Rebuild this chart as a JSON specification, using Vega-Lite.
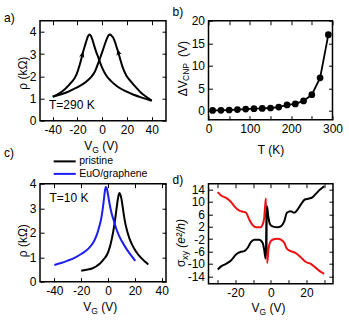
{
  "$schema": "https://vega.github.io/schema/vega-lite/v6.json",
  "background": "white",
  "padding": {"left": 3, "top": 4.7, "right": 2, "bottom": 2},
  "columns": 2,
  "spacing": {"row": 63, "column": 42.5},
  "bounds": "flush",
  "resolve": {"scale": {"color": "independent"}, "legend": {"color": "independent"}},
  "config": {
    "font": "Liberation Sans",
    "view": {"stroke": "black", "strokeWidth": 1.5},
    "axis": {
      "grid": false, "domain": false, "ticks": true, "tickSize": -4, "tickColor": "black", "tickWidth": 1,
      "labelPadding": 8, "labelFont": "Liberation Sans", "labelFontSize": 12, "labelColor": "black",
      "labelFlush": false, "labelOverlap": false, "labelBound": false,
      "titleFont": "Liberation Sans", "titleFontSize": 12, "titleFontWeight": "normal", "titleColor": "black"
    },
    "title": {"font": "Liberation Sans", "fontSize": 12, "fontWeight": "normal", "color": "black", "anchor": "start", "frame": "group", "baseline": "alphabetic"}
  },
  "concat": [
    {
      "width": 126, "height": 100,
      "title": {"text": "a)", "dx": -36, "offset": -4.5},
      "data": {"values": [
        {"VG": -40, "rho": 1.08, "sweep": "L"}, {"VG": -35, "rho": 1.22, "sweep": "L"}, {"VG": -30, "rho": 1.43, "sweep": "L"},
        {"VG": -25, "rho": 1.72, "sweep": "L"}, {"VG": -21, "rho": 2.05, "sweep": "L"}, {"VG": -18, "rho": 2.55, "sweep": "L"},
        {"VG": -16, "rho": 2.98, "sweep": "L"}, {"VG": -14.5, "rho": 3.28, "sweep": "L"}, {"VG": -13, "rho": 3.55, "sweep": "L"},
        {"VG": -11.6, "rho": 3.79, "sweep": "L"}, {"VG": -10.4, "rho": 3.88, "sweep": "L"}, {"VG": -9.2, "rho": 3.82, "sweep": "L"},
        {"VG": -8, "rho": 3.66, "sweep": "L"}, {"VG": -6.5, "rho": 3.38, "sweep": "L"}, {"VG": -5, "rho": 3.12, "sweep": "L"},
        {"VG": -3.5, "rho": 2.9, "sweep": "L"}, {"VG": -2, "rho": 2.66, "sweep": "L"}, {"VG": 0, "rho": 2.38, "sweep": "L"},
        {"VG": 3, "rho": 2.06, "sweep": "L"}, {"VG": 7, "rho": 1.79, "sweep": "L"}, {"VG": 12, "rho": 1.55, "sweep": "L"},
        {"VG": 18, "rho": 1.35, "sweep": "L"}, {"VG": 25, "rho": 1.18, "sweep": "L"}, {"VG": 32, "rho": 1.04, "sweep": "L"},
        {"VG": 40, "rho": 0.9, "sweep": "L"},
        {"VG": -40, "rho": 1.08, "sweep": "R"}, {"VG": -33, "rho": 1.19, "sweep": "R"}, {"VG": -28, "rho": 1.29, "sweep": "R"},
        {"VG": -22, "rho": 1.45, "sweep": "R"}, {"VG": -17, "rho": 1.6, "sweep": "R"}, {"VG": -12, "rho": 1.8, "sweep": "R"},
        {"VG": -9, "rho": 1.96, "sweep": "R"}, {"VG": -6, "rho": 2.2, "sweep": "R"}, {"VG": -3.5, "rho": 2.55, "sweep": "R"},
        {"VG": -1.5, "rho": 2.85, "sweep": "R"}, {"VG": 0.4, "rho": 3.15, "sweep": "R"}, {"VG": 2.2, "rho": 3.45, "sweep": "R"},
        {"VG": 3.9, "rho": 3.7, "sweep": "R"}, {"VG": 5.1, "rho": 3.84, "sweep": "R"}, {"VG": 6.3, "rho": 3.88, "sweep": "R"},
        {"VG": 7.5, "rho": 3.83, "sweep": "R"}, {"VG": 8.8, "rho": 3.74, "sweep": "R"}, {"VG": 10.3, "rho": 3.55, "sweep": "R"},
        {"VG": 11.7, "rho": 3.3, "sweep": "R"}, {"VG": 13, "rho": 3.08, "sweep": "R"}, {"VG": 14.8, "rho": 2.72, "sweep": "R"},
        {"VG": 16.6, "rho": 2.4, "sweep": "R"}, {"VG": 19.5, "rho": 2.03, "sweep": "R"}, {"VG": 23.3, "rho": 1.76, "sweep": "R"},
        {"VG": 27, "rho": 1.52, "sweep": "R"}, {"VG": 31.4, "rho": 1.26, "sweep": "R"}, {"VG": 35, "rho": 1.1, "sweep": "R"},
        {"VG": 40, "rho": 0.9, "sweep": "R"}
      ]},
      "layer": [
        {
          "mark": {"type": "line", "interpolate": "monotone", "color": "black", "strokeWidth": 2},
          "encoding": {
            "x": {"field": "VG", "type": "quantitative", "scale": {"domain": [-50.3, 51.6], "nice": false, "zero": false},
              "axis": {"orient": "bottom", "values": [-40, -20, 0, 20, 40],
                "labelExpr": "datum.value < 0 ? '-' + (-datum.value) : '' + datum.value",
                "title": "V\u00a0\u00a0\u00a0(V)", "titleX": 43.7, "titleY": 28.5, "titleAlign": "left", "titleBaseline": "alphabetic", "titleAngle": 0}},
            "y": {"field": "rho", "type": "quantitative", "scale": {"domain": [0, 4.5], "nice": false, "zero": false},
              "axis": {"orient": "left", "values": [0, 1, 2, 3, 4], "title": "ρ (kΩ)", "titleX": -13.5, "titleY": 52,
                "titleAlign": "center", "titleBaseline": "alphabetic", "titleAngle": 270}},
            "detail": {"field": "sweep", "type": "nominal"}
          }
        },
        {
          "mark": {"type": "line", "opacity": 0},
          "encoding": {
            "x": {"field": "VG", "type": "quantitative",
              "axis": {"orient": "top", "values": [-40, -20, 0, 20, 40], "labels": false,
                "title": "G", "titleFontSize": 8.5, "titleX": 51.7, "titleY": 131.5, "titleAlign": "left", "titleBaseline": "alphabetic", "titleAngle": 0}},
            "y": {"field": "rho", "type": "quantitative", "axis": {"orient": "right", "values": [0, 1, 2, 3, 4], "labels": false, "title": null}},
            "detail": {"field": "sweep", "type": "nominal"}
          }
        },
        {
          "data": {"values": [{}]},
          "mark": {"type": "point", "shape": "M0,-1L0.75,0.85L0,0.4L-0.75,0.85Z", "filled": true, "color": "black", "opacity": 1, "size": 50, "angle": 14},
          "encoding": {"x": {"datum": -16, "type": "quantitative", "axis": null}, "y": {"datum": 2.98, "type": "quantitative", "axis": null}}
        },
        {
          "data": {"values": [{}]},
          "mark": {"type": "point", "shape": "M0,-1L0.75,0.85L0,0.4L-0.75,0.85Z", "filled": true, "color": "black", "opacity": 1, "size": 50, "angle": -17},
          "encoding": {"x": {"datum": 13, "type": "quantitative", "axis": null}, "y": {"datum": 3.08, "type": "quantitative", "axis": null}}
        },
        {
          "data": {"values": [{}]},
          "mark": {"type": "text", "text": "T=290 K", "align": "left", "baseline": "middle", "fontSize": 12, "font": "Liberation Sans", "color": "black"},
          "encoding": {"x": {"datum": -43, "type": "quantitative", "axis": null}, "y": {"datum": 0.72, "type": "quantitative", "axis": null}}
        }
      ],
      "resolve": {"axis": {"x": "independent", "y": "independent"}}
    },
    {
      "width": 124, "height": 99,
      "title": {"text": "b)", "dx": -36, "offset": -4.5},
      "data": {"values": [
        {"T": 10, "dV": 0.05}, {"T": 30, "dV": 0.08}, {"T": 50, "dV": 0.15}, {"T": 70, "dV": 0.25}, {"T": 90, "dV": 0.35},
        {"T": 110, "dV": 0.45}, {"T": 130, "dV": 0.5}, {"T": 150, "dV": 0.6}, {"T": 170, "dV": 0.8}, {"T": 190, "dV": 1.28},
        {"T": 210, "dV": 1.5}, {"T": 230, "dV": 2.18}, {"T": 250, "dV": 3.55}, {"T": 270, "dV": 7.3}, {"T": 290, "dV": 16.9}
      ]},
      "layer": [
        {
          "mark": {"type": "line", "color": "black", "strokeWidth": 1.8},
          "encoding": {
            "x": {"field": "T", "type": "quantitative", "scale": {"domain": [0, 300], "nice": false, "zero": false},
              "axis": {"orient": "bottom", "values": [0, 50, 100, 150, 200, 250, 300],
                "labelExpr": "datum.value % 100 == 0 ? '' + datum.value : ''",
                "title": "T (K)", "titleX": 62, "titleY": 33.5, "titleAlign": "center", "titleBaseline": "alphabetic", "titleAngle": 0}},
            "y": {"field": "dV", "type": "quantitative", "scale": {"domain": [-2, 20], "nice": false, "zero": false},
              "axis": {"orient": "left", "values": [0, 5, 10, 15, 20],
                "title": "ΔV\u00a0\u00a0\u00a0\u00a0\u00a0\u00a0\u00a0(V)", "titleX": -22.2, "titleY": 75, "titleAlign": "left", "titleBaseline": "alphabetic", "titleAngle": 270}}
          }
        },
        {
          "mark": {"type": "point", "filled": true, "color": "black", "opacity": 1, "size": 45},
          "encoding": {
            "x": {"field": "T", "type": "quantitative", "axis": null},
            "y": {"field": "dV", "type": "quantitative", "axis": null}
          }
        },
        {
          "mark": {"type": "line", "opacity": 0},
          "encoding": {
            "x": {"field": "T", "type": "quantitative",
              "axis": {"orient": "top", "values": [0, 50, 100, 150, 200, 250, 300], "labels": false, "title": null}},
            "y": {"field": "dV", "type": "quantitative",
              "axis": {"orient": "right", "values": [0, 5, 10, 15, 20], "labels": false,
                "title": "CNP", "titleFontSize": 8.5, "titleX": -143.5, "titleY": 59.7, "titleAlign": "left", "titleBaseline": "alphabetic", "titleAngle": 270}}
          }
        }
      ],
      "resolve": {"axis": {"x": "independent", "y": "independent"}}
    },
    {
      "width": 126, "height": 98,
      "title": {"text": "c)", "dx": -36, "offset": -4.5},
      "data": {"values": [
        {"VG": -20, "rho": 0.45, "sample": "pristine"}, {"VG": -15, "rho": 0.5, "sample": "pristine"}, {"VG": -12, "rho": 0.54, "sample": "pristine"},
        {"VG": -9, "rho": 0.62, "sample": "pristine"}, {"VG": -6, "rho": 0.74, "sample": "pristine"}, {"VG": -3, "rho": 0.93, "sample": "pristine"},
        {"VG": -0.5, "rho": 1.13, "sample": "pristine"}, {"VG": 1.5, "rho": 1.45, "sample": "pristine"}, {"VG": 3, "rho": 1.8, "sample": "pristine"},
        {"VG": 4.5, "rho": 2.25, "sample": "pristine"}, {"VG": 5.5, "rho": 2.63, "sample": "pristine"}, {"VG": 6.5, "rho": 3.05, "sample": "pristine"},
        {"VG": 7.3, "rho": 3.36, "sample": "pristine"}, {"VG": 8, "rho": 3.56, "sample": "pristine"}, {"VG": 8.6, "rho": 3.62, "sample": "pristine"},
        {"VG": 9.3, "rho": 3.54, "sample": "pristine"}, {"VG": 10, "rho": 3.38, "sample": "pristine"}, {"VG": 11, "rho": 3.02, "sample": "pristine"},
        {"VG": 11.8, "rho": 2.72, "sample": "pristine"}, {"VG": 13, "rho": 2.35, "sample": "pristine"}, {"VG": 14.5, "rho": 2.02, "sample": "pristine"},
        {"VG": 16, "rho": 1.76, "sample": "pristine"}, {"VG": 18, "rho": 1.5, "sample": "pristine"}, {"VG": 20, "rho": 1.3, "sample": "pristine"},
        {"VG": 22, "rho": 1.14, "sample": "pristine"}, {"VG": 25, "rho": 0.95, "sample": "pristine"}, {"VG": 28, "rho": 0.8, "sample": "pristine"},
        {"VG": 30, "rho": 0.7, "sample": "pristine"},
        {"VG": -40, "rho": 0.68, "sample": "EuO/graphene"}, {"VG": -35, "rho": 0.76, "sample": "EuO/graphene"}, {"VG": -30, "rho": 0.86, "sample": "EuO/graphene"},
        {"VG": -25, "rho": 0.97, "sample": "EuO/graphene"}, {"VG": -20, "rho": 1.13, "sample": "EuO/graphene"}, {"VG": -15, "rho": 1.33, "sample": "EuO/graphene"},
        {"VG": -12, "rho": 1.52, "sample": "EuO/graphene"}, {"VG": -10, "rho": 1.7, "sample": "EuO/graphene"}, {"VG": -8, "rho": 1.97, "sample": "EuO/graphene"},
        {"VG": -6.5, "rho": 2.25, "sample": "EuO/graphene"}, {"VG": -5, "rho": 2.6, "sample": "EuO/graphene"}, {"VG": -4, "rho": 2.95, "sample": "EuO/graphene"},
        {"VG": -3, "rho": 3.4, "sample": "EuO/graphene"}, {"VG": -2.3, "rho": 3.72, "sample": "EuO/graphene"}, {"VG": -1.7, "rho": 3.87, "sample": "EuO/graphene"},
        {"VG": -1, "rho": 3.82, "sample": "EuO/graphene"}, {"VG": 0, "rho": 3.55, "sample": "EuO/graphene"}, {"VG": 1, "rho": 3.22, "sample": "EuO/graphene"},
        {"VG": 2, "rho": 2.95, "sample": "EuO/graphene"}, {"VG": 3, "rho": 2.72, "sample": "EuO/graphene"}, {"VG": 4.3, "rho": 2.49, "sample": "EuO/graphene"},
        {"VG": 6, "rho": 2.18, "sample": "EuO/graphene"}, {"VG": 8, "rho": 1.9, "sample": "EuO/graphene"}, {"VG": 10, "rho": 1.68, "sample": "EuO/graphene"},
        {"VG": 12.8, "rho": 1.42, "sample": "EuO/graphene"}, {"VG": 15, "rho": 1.24, "sample": "EuO/graphene"}, {"VG": 17.5, "rho": 1.05, "sample": "EuO/graphene"},
        {"VG": 20.3, "rho": 0.85, "sample": "EuO/graphene"}
      ]},
      "layer": [
        {
          "mark": {"type": "line", "interpolate": "monotone", "strokeWidth": 2},
          "encoding": {
            "x": {"field": "VG", "type": "quantitative", "scale": {"domain": [-50.7, 43.2], "nice": false, "zero": false},
              "axis": {"orient": "bottom", "values": [-40, -20, 0, 20, 40],
                "labelExpr": "datum.value < 0 ? '-' + (-datum.value) : '' + datum.value",
                "title": "V\u00a0\u00a0\u00a0(V)", "titleX": 42.7, "titleY": 29, "titleAlign": "left", "titleBaseline": "alphabetic", "titleAngle": 0}},
            "y": {"field": "rho", "type": "quantitative", "scale": {"domain": [0, 4], "nice": false, "zero": false},
              "axis": {"orient": "left", "values": [0, 1, 2, 3, 4], "title": "ρ (kΩ)", "titleX": -13.5, "titleY": 56.5,
                "titleAlign": "center", "titleBaseline": "alphabetic", "titleAngle": 270}},
            "color": {"field": "sample", "type": "nominal",
              "scale": {"domain": ["pristine", "EuO/graphene"], "range": ["black", "#1c1cf5"]},
              "legend": {"orient": "none", "legendX": 18.7, "legendY": -28.3, "title": null, "padding": 0,
                "symbolType": "M-2.2,0L2.2,0", "symbolSize": 100, "symbolStrokeWidth": 2, "labelFontSize": 10.5, "labelFont": "Liberation Sans",
                "labelColor": "black", "labelOffset": 8.5, "rowPadding": 0.5}}
          }
        },
        {
          "mark": {"type": "line", "opacity": 0},
          "encoding": {
            "x": {"field": "VG", "type": "quantitative",
              "axis": {"orient": "top", "values": [-40, -20, 0, 20, 40], "labels": false,
                "title": "G", "titleFontSize": 8.5, "titleX": 50.7, "titleY": 130, "titleAlign": "left", "titleBaseline": "alphabetic", "titleAngle": 0}},
            "y": {"field": "rho", "type": "quantitative", "axis": {"orient": "right", "values": [0, 1, 2, 3, 4], "labels": false, "title": null}},
            "detail": {"field": "sample", "type": "nominal"}
          }
        },
        {
          "data": {"values": [{}]},
          "mark": {"type": "text", "text": "T=10 K", "align": "left", "baseline": "middle", "fontSize": 12, "font": "Liberation Sans", "color": "black"},
          "encoding": {"x": {"datum": -43.7, "type": "quantitative", "axis": null}, "y": {"datum": 3.42, "type": "quantitative", "axis": null}}
        }
      ],
      "resolve": {"axis": {"x": "independent", "y": "independent"}}
    },
    {
      "width": 124.5, "height": 100,
      "title": {"text": "d)", "dx": -36, "offset": -4.5},
      "data": {"values": [
        {"VG": -30, "sxy": 13.2, "s": "r"}, {"VG": -28.1, "sxy": 12.1, "s": "r"}, {"VG": -25.3, "sxy": 11.3, "s": "r"}, {"VG": -22.5, "sxy": 10.0, "s": "r"},
        {"VG": -20.6, "sxy": 8.6, "s": "r"}, {"VG": -17.8, "sxy": 7.2, "s": "r"}, {"VG": -15.3, "sxy": 6.8, "s": "r"}, {"VG": -14, "sxy": 6.5, "s": "r"},
        {"VG": -12.2, "sxy": 4.3, "s": "r"}, {"VG": -10.3, "sxy": 2.5, "s": "r"}, {"VG": -8.4, "sxy": 1.8, "s": "r"}, {"VG": -6, "sxy": 1.8, "s": "r"},
        {"VG": -4.7, "sxy": 2.7, "s": "r"}, {"VG": -3.8, "sxy": 4.8, "s": "r"}, {"VG": -3.2, "sxy": 9.1, "s": "r"}, {"VG": -2.8, "sxy": 11.1, "s": "r"},
        {"VG": -2.1, "sxy": -9.7, "s": "r"}, {"VG": -1.5, "sxy": -5.9, "s": "r"}, {"VG": -0.6, "sxy": -3.2, "s": "r"}, {"VG": 0.9, "sxy": -2.2, "s": "r"},
        {"VG": 3.7, "sxy": -1.9, "s": "r"}, {"VG": 5.6, "sxy": -2.2, "s": "r"}, {"VG": 7.5, "sxy": -3.2, "s": "r"}, {"VG": 9, "sxy": -5.1, "s": "r"},
        {"VG": 11.2, "sxy": -5.9, "s": "r"}, {"VG": 14, "sxy": -6.5, "s": "r"}, {"VG": 16.9, "sxy": -7.9, "s": "r"}, {"VG": 19.7, "sxy": -9.4, "s": "r"},
        {"VG": 22.5, "sxy": -10.0, "s": "r"}, {"VG": 25.3, "sxy": -11.3, "s": "r"}, {"VG": 28.1, "sxy": -12.6, "s": "r"}, {"VG": 30, "sxy": -13.2, "s": "r"},
        {"VG": -30, "sxy": -11.8, "s": "k"}, {"VG": -28.1, "sxy": -10.8, "s": "k"}, {"VG": -25.3, "sxy": -10.0, "s": "k"}, {"VG": -22.5, "sxy": -8.9, "s": "k"},
        {"VG": -19.7, "sxy": -7.0, "s": "k"}, {"VG": -16.9, "sxy": -6.1, "s": "k"}, {"VG": -15, "sxy": -5.9, "s": "k"}, {"VG": -13.1, "sxy": -4.8, "s": "k"},
        {"VG": -11.2, "sxy": -2.9, "s": "k"}, {"VG": -9.4, "sxy": -2.2, "s": "k"}, {"VG": -6.6, "sxy": -2.2, "s": "k"}, {"VG": -4.7, "sxy": -3.2, "s": "k"},
        {"VG": -3.8, "sxy": -5.4, "s": "k"}, {"VG": -3.0, "sxy": -8.3, "s": "k"}, {"VG": -2.2, "sxy": 8.6, "s": "k"}, {"VG": -1.5, "sxy": 5.4, "s": "k"},
        {"VG": -0.6, "sxy": 2.9, "s": "k"}, {"VG": 0.9, "sxy": 2.1, "s": "k"}, {"VG": 3.7, "sxy": 1.8, "s": "k"}, {"VG": 5.6, "sxy": 2.1, "s": "k"},
        {"VG": 7.5, "sxy": 3.7, "s": "k"}, {"VG": 9, "sxy": 6.5, "s": "k"}, {"VG": 11.2, "sxy": 7.0, "s": "k"}, {"VG": 13.1, "sxy": 6.5, "s": "k"},
        {"VG": 15, "sxy": 7.5, "s": "k"}, {"VG": 16.9, "sxy": 9.2, "s": "k"}, {"VG": 19.1, "sxy": 10.8, "s": "k"}, {"VG": 21.5, "sxy": 11.1, "s": "k"},
        {"VG": 23.4, "sxy": 11.5, "s": "k"}, {"VG": 25.3, "sxy": 12.6, "s": "k"}, {"VG": 27.7, "sxy": 14.0, "s": "k"}, {"VG": 30, "sxy": 15.1, "s": "k"}
      ]},
      "layer": [
        {
          "mark": {"type": "line", "interpolate": "monotone", "strokeWidth": 2},
          "encoding": {
            "x": {"field": "VG", "type": "quantitative", "scale": {"domain": [-35.2, 35], "nice": false, "zero": false},
              "axis": {"orient": "bottom", "values": [-30, -20, -10, 0, 10, 20, 30],
                "labelExpr": "datum.value % 20 == 0 ? (datum.value < 0 ? '-' + (-datum.value) : '' + datum.value) : ''",
                "title": "V\u00a0\u00a0\u00a0(V)", "titleX": 42.5, "titleY": 27.5, "titleAlign": "left", "titleBaseline": "alphabetic", "titleAngle": 0}},
            "y": {"field": "sxy", "type": "quantitative", "scale": {"domain": [-16.4, 15.9], "nice": false, "zero": false},
              "axis": {"orient": "left", "values": [-14, -10, -6, -2, 2, 6, 10, 14],
                "labelExpr": "datum.value < 0 ? '-' + (-datum.value) : '' + datum.value",
                "title": "σ", "titleX": -23.5, "titleY": 82.7, "titleAlign": "left", "titleBaseline": "alphabetic", "titleAngle": 270}},
            "color": {"field": "s", "type": "nominal", "scale": {"domain": ["k", "r"], "range": ["black", "#f01010"]}, "legend": null}
          }
        },
        {
          "mark": {"type": "line", "opacity": 0},
          "encoding": {
            "x": {"field": "VG", "type": "quantitative",
              "axis": {"orient": "top", "values": [-30, -20, -10, 0, 10, 20, 30], "labels": false,
                "title": "G", "titleFontSize": 8.5, "titleX": 50.5, "titleY": 130.5, "titleAlign": "left", "titleBaseline": "alphabetic", "titleAngle": 0}},
            "y": {"field": "sxy", "type": "quantitative",
              "axis": {"orient": "right", "values": [-14, -10, -6, -2, 2, 6, 10, 14], "labels": false,
                "title": "xy", "titleFontSize": 9, "titleX": -145, "titleY": 75.7, "titleAlign": "left", "titleBaseline": "alphabetic", "titleAngle": 270}},
            "detail": {"field": "s", "type": "nominal"}
          }
        },
        {
          "mark": {"type": "line", "opacity": 0},
          "encoding": {
            "x": {"field": "VG", "type": "quantitative", "axis": null},
            "y": {"field": "sxy", "type": "quantitative",
              "axis": {"orient": "left", "ticks": false, "labels": false, "title": "(e²/h)", "titleFontStyle": "italic",
                "titleX": -23.5, "titleY": 63.5, "titleAlign": "left", "titleBaseline": "alphabetic", "titleAngle": 270}},
            "detail": {"field": "s", "type": "nominal"}
          }
        }
      ],
      "resolve": {"axis": {"x": "independent", "y": "independent"}}
    }
  ]
}
